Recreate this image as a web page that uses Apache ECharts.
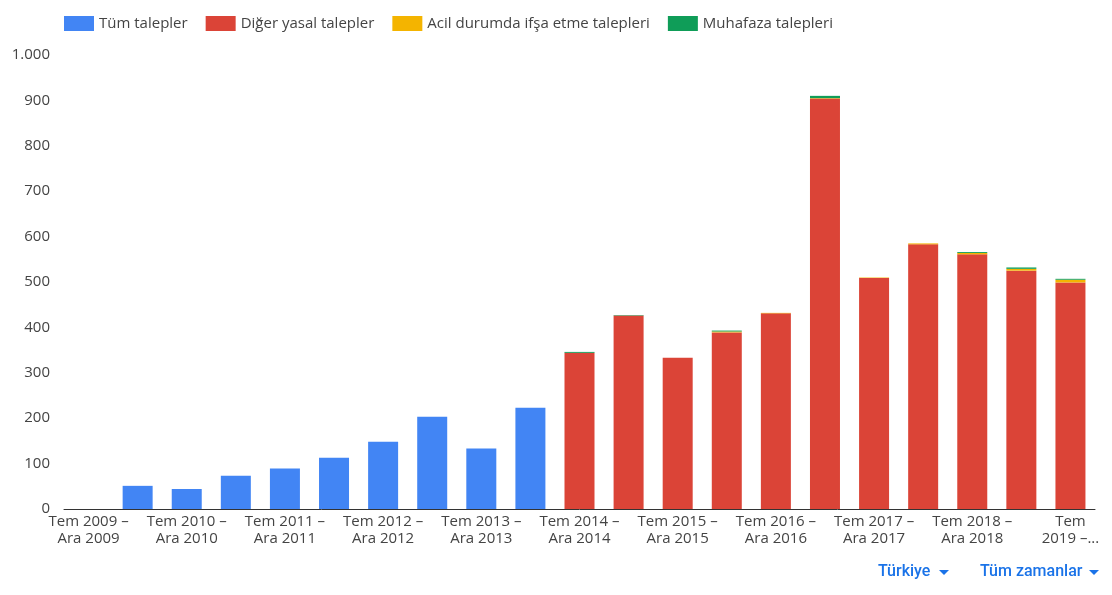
<!DOCTYPE html>
<html>
<head>
<meta charset="utf-8">
<script src="https://cdn.jsdelivr.net/npm/echarts@6/dist/echarts.min.js"></script>
<style>
html,body{margin:0;padding:0;background:#fff;}
#chart{width:1112px;height:595px;}
</style>
</head>
<body>
<div id="chart"></div>
<script>
const categories = [
  "Tem 2009 – Ara 2009","Oca 2010 – Haz 2010","Tem 2010 – Ara 2010","Oca 2011 – Haz 2011",
  "Tem 2011 – Ara 2011","Oca 2012 – Haz 2012","Tem 2012 – Ara 2012","Oca 2013 – Haz 2013",
  "Tem 2013 – Ara 2013","Oca 2014 – Haz 2014","Tem 2014 – Ara 2014","Oca 2015 – Haz 2015",
  "Tem 2015 – Ara 2015","Oca 2016 – Haz 2016","Tem 2016 – Ara 2016","Oca 2017 – Haz 2017",
  "Tem 2017 – Ara 2017","Oca 2018 – Haz 2018","Tem 2018 – Ara 2018","Oca 2019 – Haz 2019",
  "Tem 2019 – Ara 2019"
];
const allRequests   = [0,51,44,73,89,113,148,203,133,223,null,null,null,null,null,null,null,null,null,null,null];
const otherLegal    = [null,null,null,null,null,null,null,null,null,null,344,426,333,389,431,904,509,583,561,525,499];
const emergency     = [null,null,null,null,null,null,null,null,null,null,0,0,0,2,1,1,1,2,3,4,6];
const preservation  = [null,null,null,null,null,null,null,null,null,null,2,1,0,2,0,5,0,0,2,3,2];
const yTicks = [0,100,200,300,400,500,600,700,800,900,1000];

const chart = echarts.init(document.getElementById('chart'));
const font = "'Open Sans', sans-serif";
function fmtNum(v){ return String(v).replace(/\B(?=(\d{3})+(?!\d))/g, '.'); }
const barW = 30;
chart.setOption({
  animation:false,
  textStyle:{fontFamily:font},
  legend:{
    left:64, top:16, padding:0,
    itemWidth:30, itemHeight:15, itemGap:18,
    icon:'rect',
    textStyle:{fontSize:15,color:'#444',fontFamily:font},
    data:['Tüm talepler','Diğer yasal talepler','Acil durumda ifşa etme talepleri','Muhafaza talepleri']
  },
  grid:{left:64,right:17,top:55,bottom:86,containLabel:false},
  xAxis:{
    type:'category',
    data:categories,
    axisLine:{show:true,lineStyle:{color:'#333',width:1}},
    axisTick:{show:false},
    axisLabel:{
      interval:1,
      color:'#444',
      fontSize:15,
      fontFamily:font,
      lineHeight:17,
      margin:4,
      formatter:function(v,i){
        if(i===categories.length-1){
          const p=v.split(' – ');
          const a=p[0].split(' ');
          return a[0]+'\n'+a[1]+' –...';
        }
        return v.replace(' – ',' –\n');
      }
    }
  },
  yAxis:{
    type:'value',
    min:yTicks[0], max:yTicks[yTicks.length-1], interval:100,
    axisLine:{show:false},
    axisTick:{show:false},
    splitLine:{show:false},
    axisLabel:{color:'#444',fontSize:15,fontFamily:font,margin:14,formatter:function(v){return fmtNum(v);}}
  },
  series:[
    {name:'Tüm talepler',type:'bar',stack:'s',barWidth:barW,data:allRequests,itemStyle:{color:'#4285F4'}},
    {name:'Diğer yasal talepler',type:'bar',stack:'s',barWidth:barW,data:otherLegal,itemStyle:{color:'#DB4437'}},
    {name:'Acil durumda ifşa etme talepleri',type:'bar',stack:'s',barWidth:barW,data:emergency,itemStyle:{color:'#F4B400'}},
    {name:'Muhafaza talepleri',type:'bar',stack:'s',barWidth:barW,data:preservation,itemStyle:{color:'#0F9D58'}}
  ],
  graphic:[
    {type:'text',left:878,top:564,style:{text:'Türkiye',font:"500 16px Roboto, sans-serif",fill:'#1a73e8'}},
    {type:'polygon',shape:{points:[[939,570],[949,570],[944,575]]},style:{fill:'#1a73e8'}},
    {type:'text',left:980,top:564,style:{text:'Tüm zamanlar',font:"500 16px Roboto, sans-serif",fill:'#1a73e8'}},
    {type:'polygon',shape:{points:[[1089,570],[1099,570],[1094,575]]},style:{fill:'#1a73e8'}}
  ]
});
</script>
</body>
</html>
